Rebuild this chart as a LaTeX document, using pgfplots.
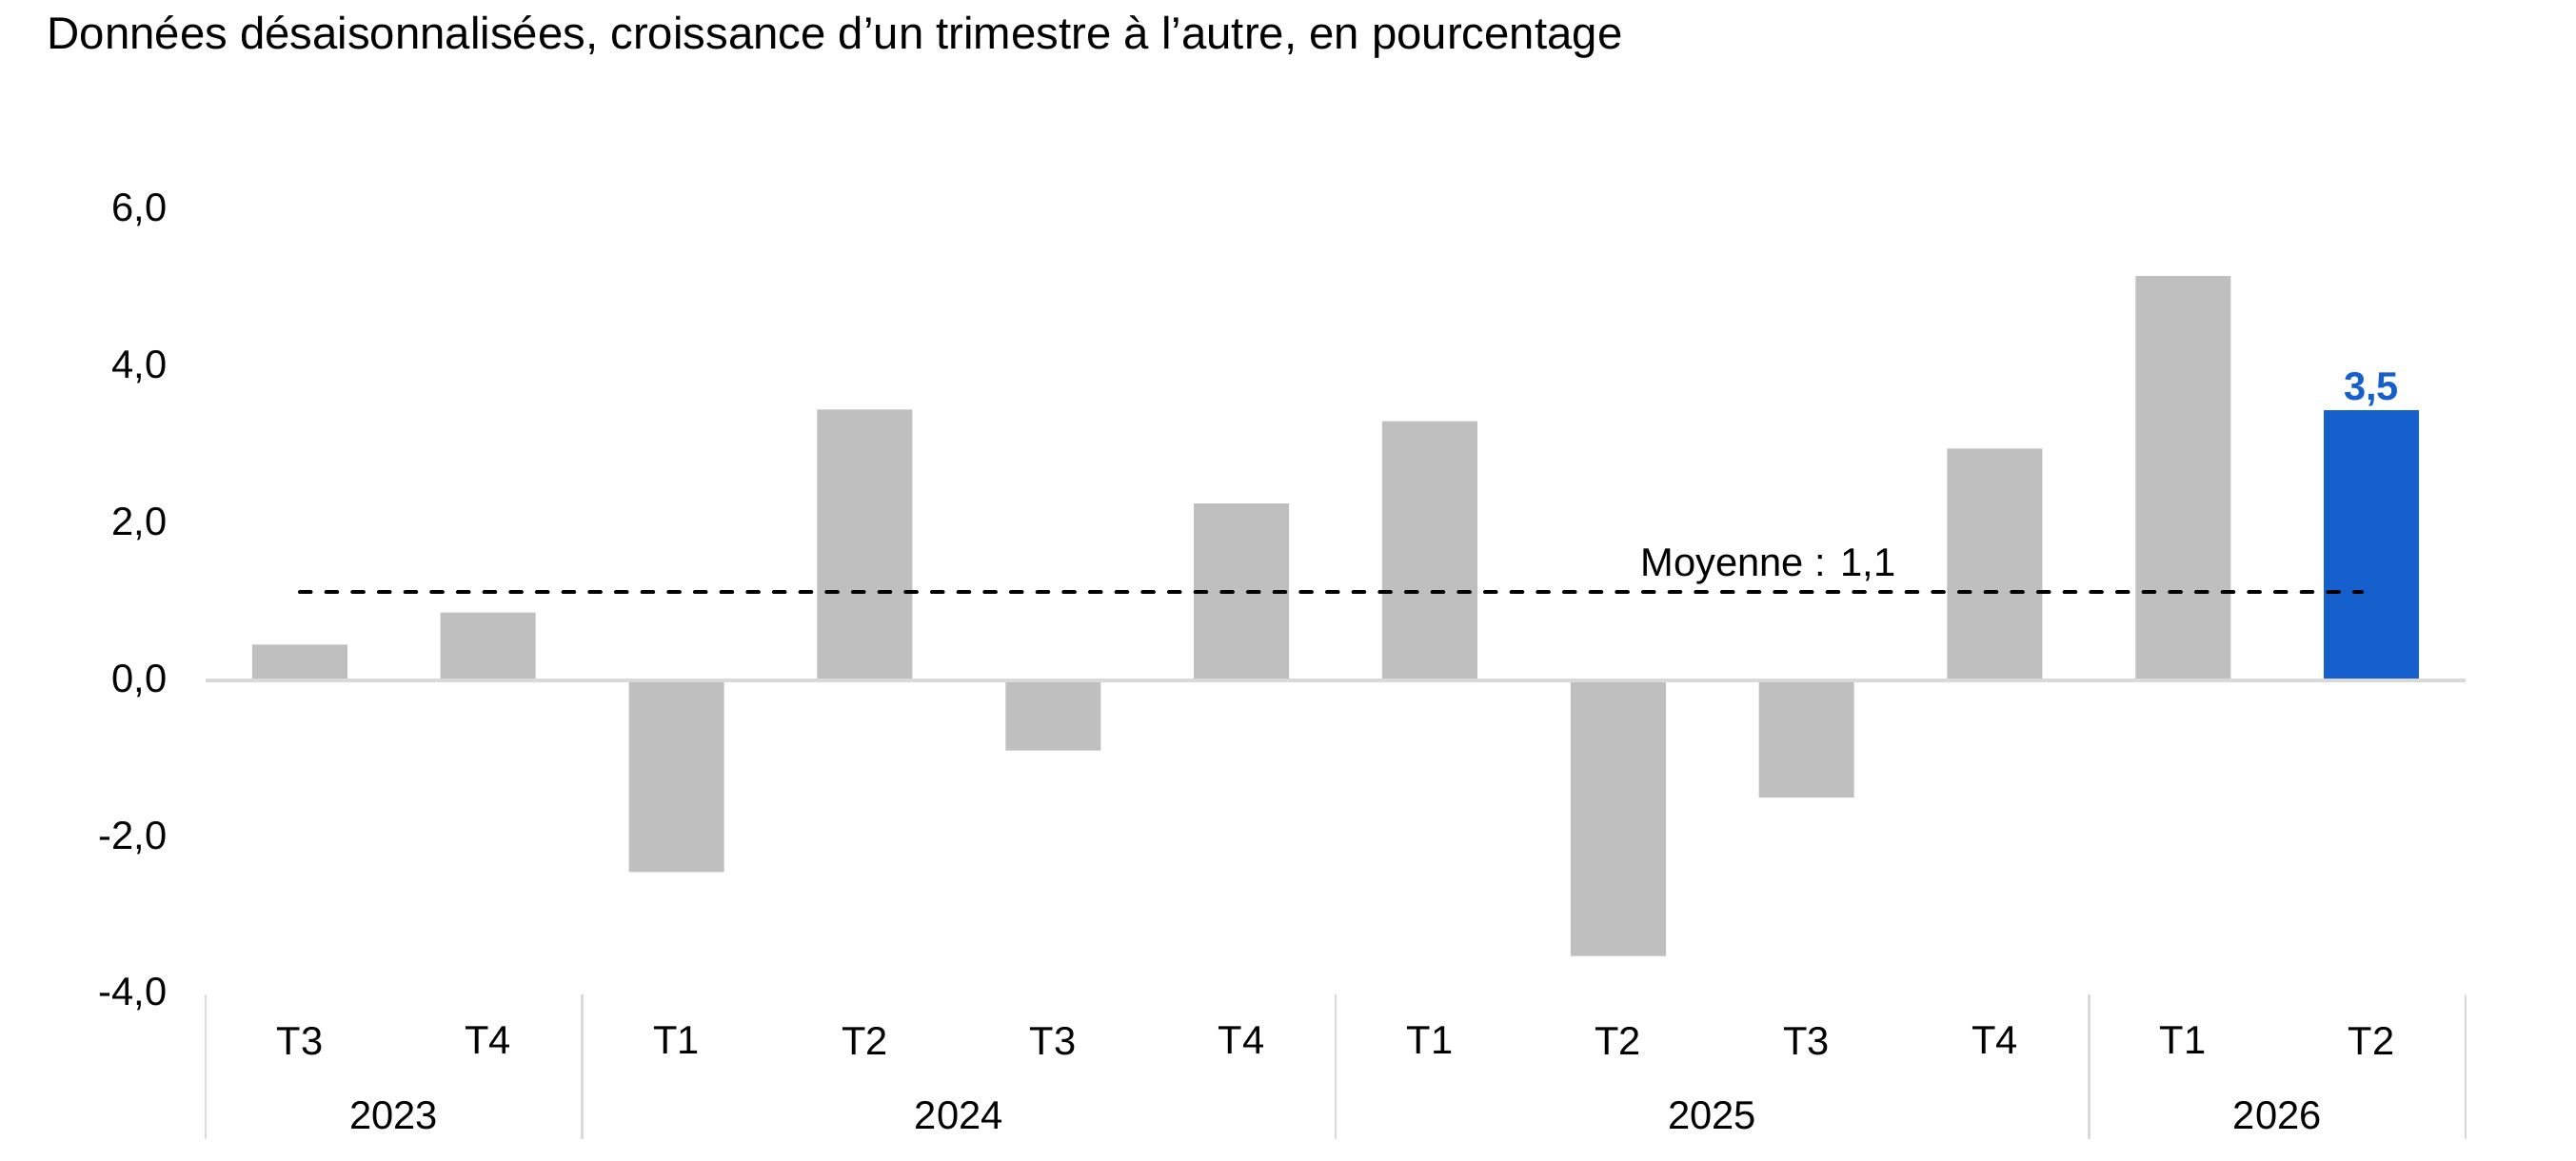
\documentclass[border=0pt]{standalone}
\usepackage{fontspec}
\setmainfont{Liberation Sans}
\usepackage{pgfplots}
\pgfplotsset{compat=1.18}
\definecolor{barg}{HTML}{BFBFBF}
\definecolor{barb}{HTML}{1560CD}
\definecolor{lineg}{HTML}{D9D9D9}
\begin{document}
\begin{tikzpicture}[font=\fontsize{12.5}{15}\selectfont]
\begin{axis}[
  scale only axis, width=712.2pt, height=247.2pt,
  xmin=-0.5, xmax=11.5, ymin=-4, ymax=6,
  axis line style={draw=none},
  major tick length=0pt,
  /pgf/number format/assume math mode=true,
  ytick={-4,-2,0,2,4,6},
  yticklabels={{-4,0},{-2,0},{0,0},{2,0},{4,0},{6,0}},
  yticklabel style={anchor=east, inner sep=0pt, xshift=-12pt},
  xtick={0,1,2,3,4,5,6,7,8,9,10,11},
  xticklabels={T3,T4,T1,T2,T3,T4,T1,T2,T3,T4,T1,T2},
  xticklabel style={anchor=center, inner sep=0pt, yshift=-14.6pt},
  clip=false,
]
\addplot[ybar, bar width=30pt, bar shift=0pt, fill=barg, draw=none] coordinates {
  (0,0.46) (1,0.87) (2,-2.44) (3,3.46) (4,-0.89) (5,2.26)
  (6,3.31) (7,-3.51) (8,-1.49) (9,2.96) (10,5.16)
};
\addplot[ybar, bar width=30pt, bar shift=0pt, fill=barb, draw=none,
  point meta=explicit symbolic, nodes near coords,
  nodes near coords style={anchor=base, inner sep=0pt, yshift=3.3pt, text=barb, font=\fontsize{12.5}{15}\selectfont\bfseries}]
  coordinates {(11,3.45) [3,5]};
\draw[lineg, line width=1.2pt] (axis cs:-0.5,0) -- (axis cs:11.5,0);
\addplot[black, line width=1.2pt, dash pattern=on 3.5pt off 4.8pt, line cap=round] coordinates {(0,1.13) (10.95,1.13)};
\node[anchor=base west, inner sep=0pt] at (axis cs:7.116,1.335) {Moyenne : 1,1};
\pgfplotsinvokeforeach{-0.5,1.5,5.5,9.5,11.5}{
  \draw[lineg, line width=0.8pt] (axis cs:#1,-4) -- (axis cs:#1,-5.845);
}
\node[inner sep=0pt, yshift=-38.1pt] at (axis cs:0.5,-4) {2023};
\node[inner sep=0pt, yshift=-38.1pt] at (axis cs:3.5,-4) {2024};
\node[inner sep=0pt, yshift=-38.1pt] at (axis cs:7.5,-4) {2025};
\node[inner sep=0pt, yshift=-38.1pt] at (axis cs:10.5,-4) {2026};
\node[anchor=base west, inner sep=0pt, xshift=-50.1pt, yshift=50.8pt, font=\fontsize{14.2}{17}\selectfont] at (rel axis cs:0,1) {Données désaisonnalisées, croissance d’un trimestre à l’autre, en pourcentage};
\end{axis}
\pgfresetboundingbox
\path[use as bounding box] ([xshift=-64.8pt,yshift=-52.5pt]current axis.south west) rectangle ([xshift=34.8pt,yshift=66.3pt]current axis.north east);
\end{tikzpicture}
\end{document}
